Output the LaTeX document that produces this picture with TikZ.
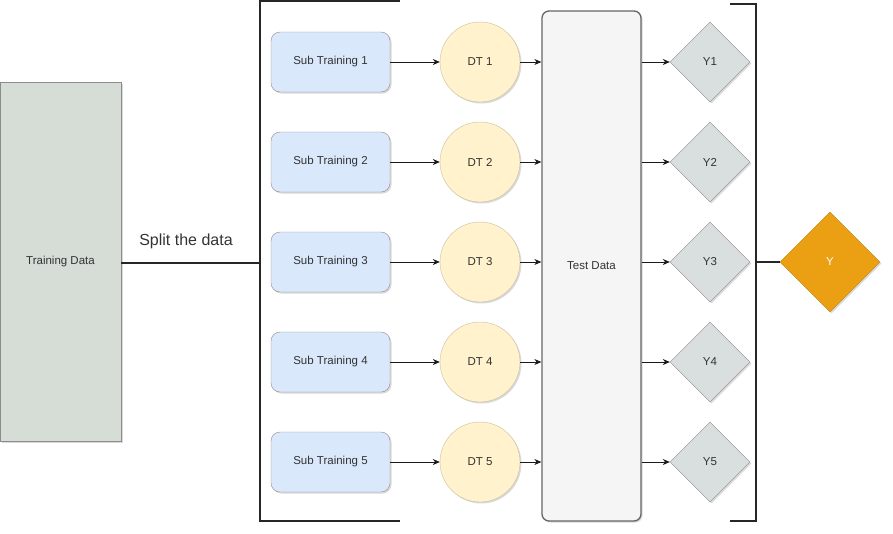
\documentclass[tikz,border=0pt]{standalone}
\usepackage{fontspec}
\setmainfont{Liberation Sans}
\usetikzlibrary{shapes.geometric,arrows.meta,shadows}
\definecolor{trainfill}{HTML}{D5DDD6}
\definecolor{subfill}{HTML}{DAE8FC}
\definecolor{dtfill}{HTML}{FFF2CC}
\definecolor{dtline}{HTML}{D6B656}
\definecolor{testfill}{HTML}{F5F5F5}
\definecolor{yfill}{HTML}{D9DEDE}
\definecolor{orangefill}{HTML}{EAA012}
\definecolor{ink}{HTML}{333333}
\tikzset{
  x=1pt, y=-1pt,
  every node/.style={font=\fontsize{11.5}{13}\selectfont, text=ink},
  soft/.style={drop shadow={shadow xshift=1.5pt, shadow yshift=-1.5pt, opacity=0.25, fill=black!60}},
  trainbox/.style={draw=black!45, fill=trainfill, minimum width=121pt, minimum height=359pt, inner sep=0pt, soft},
  subbox/.style={draw=black!45, fill=subfill, rounded corners=9pt, minimum width=119pt, minimum height=60pt, inner sep=0pt, soft},
  dtnode/.style={circle, draw=dtline!70!black!50, fill=dtfill, minimum size=80pt, inner sep=0pt, soft},
  testbox/.style={draw=black!60, line width=1.3pt, fill=testfill, rounded corners=7pt, minimum width=99pt, minimum height=510pt, inner sep=0pt, soft},
  ynode/.style={diamond, draw=black!45, fill=yfill, minimum width=80pt, minimum height=80pt, inner sep=0pt, soft},
  bignode/.style={diamond, draw=orangefill!80!black, fill=orangefill, minimum width=100pt, minimum height=100pt, inner sep=0pt, text=white, soft},
  flow/.style={-{Stealth[length=7pt,width=6pt]}, line width=0.8pt, black!90},
  bracket/.style={line width=1.6pt, black!85},
  link/.style={line width=1.6pt, black!85},
}
\begin{document}
\begin{tikzpicture}
\useasboundingbox (0,0) rectangle (893,533);

% source data
\node[trainbox] (train) at (60.5,261.5) {Training Data};

% left bracket gathering the subsets
\coordinate (lbtop) at (400,1);
\coordinate (lbtl) at (260,1);
\coordinate (lbbl) at (260,521);
\coordinate (lbbot) at (400,521);
\coordinate (lbmid) at (260,263);
\draw[bracket] (lbtop) -- (lbtl) -- (lbbl) -- (lbbot);
\draw[link] (train.east |- lbmid) -- (lbmid);
\node[font=\fontsize{16}{18}\selectfont] (splitlabel) at (186,241) {Split the data};

% shared test set
\node[testbox] (test) at (591.5,266) {Test Data};

% right bracket gathering the predictions
\coordinate (rbtl) at (730,4);
\coordinate (rbtr) at (756,4);
\coordinate (rbbr) at (756,521);
\coordinate (rbbl) at (730,521);
\draw[bracket] (rbtl) -- (rbtr) -- (rbbr) -- (rbbl);

% one row per subset: subset, tree, prediction
\foreach \i/\yy in {1/62,2/162,3/262,4/362,5/462}{
  \node[subbox] (sub\i) at (330.5,\yy) {Sub Training \i};
  \node[dtnode] (dt\i) at (480,\yy) {DT \i};
  \node[ynode] (y\i) at (710,\yy) {Y\i};
  \draw[flow] (sub\i) -- (dt\i);
  \draw[flow] (dt\i) -- (dt\i -| test.west);
  \draw[flow] (y\i -| test.east) -- (y\i);
}

% combined result
\node[bignode] (final) at (830,262) {Y};
\draw[link] (final.west -| rbbr) -- (final.west);
\end{tikzpicture}
\end{document}
